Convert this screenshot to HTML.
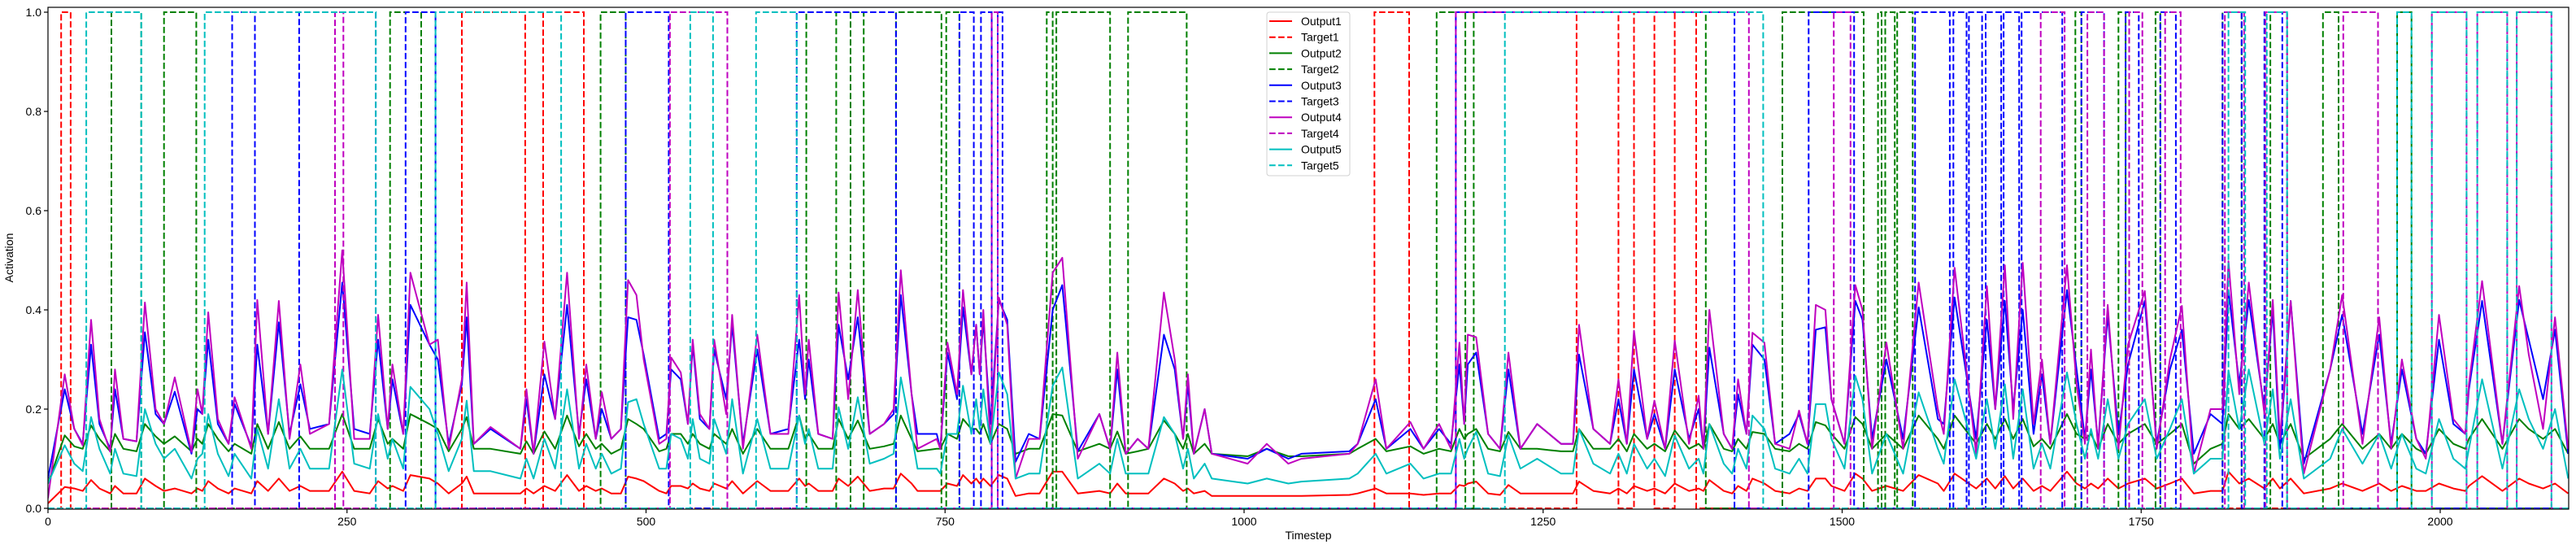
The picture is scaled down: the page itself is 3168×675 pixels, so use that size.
<!DOCTYPE html>
<html><head><meta charset="utf-8"><style>
html,body{margin:0;padding:0;background:#fff;}
svg{display:block;font-family:"Liberation Sans","DejaVu Sans",sans-serif;}
</style></head><body>
<svg id="chart" width="3168" height="675" viewBox="0 0 3168 675" xmlns="http://www.w3.org/2000/svg">
<rect x="0" y="0" width="3168" height="675" fill="#fff"/>
<g id="plot"></g>
<g id="axes"></g>
<text x="16" y="317" font-size="14" text-anchor="middle" transform="rotate(-90 16 317)">Activation</text>
<text x="1609" y="663" font-size="14" text-anchor="middle">Timestep</text>
<g id="legend"></g>
</svg>
<script>
const steps=[0,14,22,29,36,43,52,56,63,74,81,90,97,106,120,125,129,134,142,151,156,170,175,184,193,202,211,219,235,246,256,269,276,284,288,297,303,319,326,335,346,350,356,370,395,400,406,415,424,434,444,450,458,463,471,479,485,492,498,511,517,521,529,535,539,545,553,557,567,572,581,593,604,619,628,633,636,644,656,661,669,677,687,699,707,713,722,727,743,746,752,760,765,772,776,779,782,788,795,802,809,820,829,840,848,861,879,888,894,901,911,920,933,942,949,953,958,967,973,1003,1019,1037,1048,1088,1095,1110,1119,1139,1150,1163,1173,1180,1184,1187,1194,1204,1214,1221,1231,1245,1265,1275,1280,1292,1306,1313,1320,1326,1337,1343,1352,1360,1372,1380,1384,1389,1401,1408,1413,1420,1425,1435,1444,1456,1464,1471,1478,1486,1491,1502,1511,1517,1525,1537,1551,1564,1580,1585,1594,1612,1621,1628,1636,1643,1651,1660,1667,1674,1688,1696,1703,1708,1714,1722,1731,1739,1753,1763,1774,1784,1794,1808,1818,1823,1832,1840,1853,1860,1866,1875,1886,1908,1918,1935,1949,1959,1968,1980,1988,1999,2011,2021,2024,2035,2052,2066,2074,2086,2096,2107];
const output1=[.01,.043,.04,.035,.057,.04,.03,.045,.03,.03,.06,.045,.035,.04,.03,.04,.035,.055,.04,.03,.04,.03,.055,.035,.06,.035,.045,.035,.035,.074,.035,.03,.055,.04,.045,.035,.067,.06,.05,.03,.05,.064,.03,.03,.03,.04,.03,.045,.035,.067,.035,.045,.035,.04,.03,.03,.064,.06,.055,.035,.03,.045,.045,.04,.05,.04,.035,.05,.04,.055,.03,.055,.035,.035,.06,.045,.05,.035,.035,.06,.045,.064,.035,.04,.04,.07,.05,.035,.035,.035,.05,.045,.067,.05,.06,.05,.06,.045,.067,.06,.025,.03,.03,.074,.074,.03,.035,.03,.05,.03,.03,.03,.06,.05,.035,.04,.03,.035,.025,.025,.025,.025,.025,.027,.03,.04,.03,.03,.027,.03,.03,.047,.045,.05,.054,.03,.027,.047,.03,.03,.03,.03,.054,.035,.03,.04,.03,.045,.035,.04,.03,.05,.035,.04,.035,.057,.035,.03,.045,.035,.06,.05,.035,.03,.04,.035,.06,.06,.045,.035,.07,.06,.035,.045,.035,.067,.05,.035,.07,.04,.06,.04,.065,.04,.06,.035,.045,.035,.074,.05,.04,.05,.04,.06,.04,.05,.06,.04,.05,.06,.03,.035,.035,.074,.05,.06,.04,.06,.04,.06,.03,.04,.05,.035,.05,.035,.045,.035,.035,.05,.04,.035,.045,.065,.035,.06,.05,.04,.05,.03];
const output2=[.05,.147,.125,.12,.167,.14,.115,.15,.12,.115,.17,.145,.13,.145,.115,.14,.13,.17,.14,.115,.13,.11,.17,.12,.174,.12,.145,.12,.12,.19,.12,.12,.18,.13,.14,.12,.19,.17,.16,.115,.16,.184,.12,.12,.11,.135,.11,.155,.12,.187,.125,.15,.12,.13,.11,.12,.18,.17,.16,.115,.12,.15,.15,.13,.15,.13,.12,.15,.13,.16,.11,.16,.12,.12,.187,.14,.15,.12,.12,.18,.14,.177,.12,.125,.13,.187,.14,.115,.12,.12,.15,.14,.18,.16,.16,.15,.17,.13,.17,.16,.11,.12,.12,.19,.187,.115,.13,.12,.155,.11,.115,.12,.177,.15,.12,.15,.11,.13,.11,.105,.12,.105,.105,.11,.12,.14,.115,.125,.11,.12,.115,.16,.14,.15,.16,.12,.115,.154,.12,.12,.115,.115,.16,.12,.12,.14,.115,.15,.12,.13,.115,.157,.12,.13,.12,.17,.12,.115,.14,.12,.154,.15,.12,.115,.13,.12,.174,.167,.15,.12,.184,.17,.12,.15,.12,.187,.14,.12,.187,.13,.17,.14,.18,.14,.18,.125,.14,.12,.19,.15,.14,.15,.12,.17,.13,.15,.17,.13,.15,.17,.09,.12,.13,.19,.16,.18,.14,.17,.13,.17,.1,.14,.17,.12,.15,.12,.15,.12,.11,.16,.13,.12,.14,.18,.12,.18,.16,.14,.16,.11];
const output3=[.06,.24,.16,.13,.33,.17,.12,.24,.14,.135,.355,.19,.17,.235,.11,.2,.19,.34,.17,.13,.21,.125,.33,.15,.375,.15,.25,.16,.17,.455,.16,.15,.34,.16,.26,.15,.41,.33,.3,.13,.25,.385,.13,.16,.12,.22,.11,.27,.18,.41,.15,.26,.14,.2,.14,.16,.385,.38,.31,.14,.15,.28,.26,.17,.33,.18,.16,.32,.22,.37,.13,.32,.15,.16,.34,.22,.3,.15,.14,.37,.26,.385,.15,.17,.19,.43,.23,.15,.15,.12,.314,.22,.405,.27,.37,.27,.38,.17,.42,.38,.094,.15,.14,.4,.45,.115,.19,.12,.28,.11,.14,.12,.35,.28,.14,.25,.11,.2,.11,.1,.12,.1,.11,.115,.13,.22,.12,.16,.12,.16,.13,.29,.17,.29,.314,.15,.12,.28,.12,.17,.13,.13,.31,.16,.13,.22,.13,.28,.14,.19,.12,.28,.14,.2,.12,.324,.15,.12,.23,.15,.33,.3,.13,.15,.19,.13,.36,.365,.22,.13,.418,.38,.14,.3,.14,.405,.18,.17,.425,.14,.38,.2,.418,.2,.4,.15,.27,.13,.44,.28,.14,.28,.13,.39,.15,.29,.418,.13,.28,.36,.11,.19,.17,.44,.25,.42,.2,.4,.12,.418,.09,.28,.39,.15,.35,.13,.28,.14,.11,.34,.17,.15,.24,.418,.13,.42,.34,.22,.36,.11];
const output4=[.02,.27,.16,.127,.38,.18,.114,.28,.14,.135,.415,.2,.17,.264,.114,.24,.19,.395,.18,.13,.224,.12,.42,.15,.418,.14,.29,.15,.17,.52,.14,.14,.39,.16,.29,.15,.475,.33,.34,.12,.26,.455,.13,.164,.12,.24,.11,.336,.18,.475,.14,.29,.14,.234,.14,.16,.46,.43,.3,.13,.14,.304,.274,.17,.34,.19,.16,.34,.19,.39,.12,.35,.15,.15,.43,.23,.34,.15,.14,.435,.22,.44,.15,.17,.2,.48,.23,.12,.14,.12,.334,.23,.44,.27,.37,.27,.4,.13,.425,.37,.06,.14,.14,.475,.505,.1,.19,.12,.314,.11,.14,.12,.435,.3,.14,.27,.11,.2,.11,.09,.13,.09,.1,.11,.13,.26,.12,.174,.12,.17,.12,.334,.17,.35,.345,.15,.12,.314,.12,.17,.13,.13,.37,.16,.13,.26,.13,.358,.14,.217,.12,.338,.13,.227,.12,.4,.15,.12,.26,.15,.354,.334,.13,.12,.197,.13,.41,.4,.22,.13,.45,.4,.12,.334,.12,.455,.2,.15,.485,.11,.448,.2,.49,.18,.495,.17,.3,.13,.49,.25,.13,.32,.12,.41,.12,.33,.438,.12,.3,.408,.07,.2,.2,.498,.23,.455,.19,.42,.14,.418,.07,.28,.43,.13,.385,.12,.3,.14,.1,.39,.18,.15,.25,.458,.13,.448,.31,.16,.385,.12];
const output5=[.05,.127,.09,.075,.184,.12,.07,.12,.07,.065,.2,.13,.1,.12,.06,.1,.11,.19,.11,.065,.11,.06,.16,.08,.22,.08,.12,.08,.08,.28,.09,.08,.19,.1,.14,.08,.245,.2,.15,.075,.14,.217,.075,.075,.06,.1,.06,.14,.08,.24,.08,.13,.08,.11,.07,.08,.214,.22,.17,.08,.08,.15,.14,.1,.18,.1,.09,.18,.11,.22,.07,.18,.08,.08,.187,.13,.16,.08,.08,.204,.12,.224,.09,.1,.11,.264,.15,.08,.08,.07,.15,.15,.247,.15,.22,.16,.24,.13,.274,.23,.06,.07,.07,.247,.284,.06,.09,.07,.14,.07,.07,.07,.184,.15,.08,.12,.06,.09,.06,.05,.06,.05,.054,.06,.07,.11,.07,.09,.06,.07,.07,.14,.1,.12,.154,.07,.065,.147,.08,.1,.07,.07,.16,.09,.07,.11,.07,.13,.08,.1,.065,.147,.08,.1,.07,.17,.09,.07,.12,.08,.187,.16,.08,.07,.1,.07,.21,.21,.14,.08,.267,.22,.07,.15,.07,.234,.12,.09,.26,.1,.22,.12,.25,.1,.24,.08,.13,.08,.274,.17,.1,.16,.1,.22,.1,.17,.22,.1,.16,.22,.07,.1,.1,.278,.16,.28,.13,.24,.1,.22,.06,.1,.16,.09,.15,.08,.15,.08,.07,.18,.1,.08,.12,.26,.08,.24,.18,.12,.2,.06];
const target1=[[11,19],[346,399],[414,448],[1109,1138],[1278,1313],[1326,1343],[1360,1378]];
const target2=[[53,78],[97,124],[286,312],[462,483],[634,659],[671,682],[709,747],[751,762],[835,840],[843,888],[903,952],[1161,1185],[1192,1386],[1450,1518],[1530,1533],[1536,1544],[1546,1559],[1695,1700],[1731,1737],[1762,1766],[1818,1834],[1858,1872],[1902,1915],[1964,1976]];
const target3=[[154,173],[210,274],[299,324],[483,519],[626,709],[762,774],[780,789],[794,798],[1177,1410],[1472,1510],[1561,1590],[1593,1604],[1606,1617],[1620,1633],[1635,1648],[1650,1684],[1700,1719],[1737,1748],[1766,1779],[1818,1834],[1853,1868]];
const target4=[[240,247],[520,568],[789,794],[1177,1422],[1493,1507],[1666,1686],[1705,1719],[1740,1751],[1770,1783],[1820,1836],[1854,1872],[1919,1948],[1993,2022],[2031,2056],[2064,2093]];
const target5=[[32,78],[131,274],[324,429],[537,556],[592,626],[1218,1434],[1823,1837],[1855,1872],[1964,1976],[1993,2022],[2031,2056],[2064,2093]];
const xTicks=[0,250,500,750,1000,1250,1500,1750,2000];
const yTicks=[0.0,0.2,0.4,0.6,0.8,1.0];
const seriesNames=["Output1","Target1","Output2","Target2","Output3","Target3","Output4","Target4","Output5","Target5"];

const NS="http://www.w3.org/2000/svg";
const X0=59,XR=3159,YT=9,YB=626,XMAX=2107;
function xs(t){return X0+t*1.471;}
function ys(v){return 625-v*610;}
const colors=["#ff0000","#ff0000","#008000","#008000","#0000ff","#0000ff","#bf00bf","#bf00bf","#00bfbf","#00bfbf"];
const plot=document.getElementById('plot');
const clip=document.createElementNS(NS,'clipPath');clip.setAttribute('id','cp');
const cr=document.createElementNS(NS,'rect');cr.setAttribute('x',X0);cr.setAttribute('y',YT);cr.setAttribute('width',XR-X0);cr.setAttribute('height',YB-YT);
clip.appendChild(cr);document.getElementById('chart').appendChild(clip);
plot.setAttribute('clip-path','url(#cp)');
function outPath(arr){let n=Math.min(steps.length,arr.length);let d='';for(let i=0;i<n;i++){d+=(i?'L':'M')+xs(steps[i]).toFixed(1)+' '+ys(arr[i]).toFixed(1);}return d;}
function tgtPath(iv){let d='M'+xs(0)+' '+ys(0);for(const [a,b] of iv){d+='L'+xs(a).toFixed(1)+' '+ys(0)+'L'+xs(a).toFixed(1)+' '+ys(1)+'L'+xs(b).toFixed(1)+' '+ys(1)+'L'+xs(b).toFixed(1)+' '+ys(0);}d+='L'+xs(XMAX)+' '+ys(0);return d;}
const outs=[output1,output2,output3,output4,output5];
const tgts=[target1,target2,target3,target4,target5];
for(let k=0;k<5;k++){
  const o=document.createElementNS(NS,'path');
  o.setAttribute('d',outPath(outs[k]));o.setAttribute('fill','none');o.setAttribute('stroke',colors[2*k]);o.setAttribute('stroke-width','2');o.setAttribute('stroke-linejoin','round');
  
  
  plot.appendChild(o);
  const t=document.createElementNS(NS,'path');
  t.setAttribute('d',tgtPath(tgts[k]));t.setAttribute('fill','none');t.setAttribute('stroke',colors[2*k+1]);t.setAttribute('stroke-width','2');t.setAttribute('stroke-dasharray','7.7 3.3');
  
  
  plot.appendChild(t);
}
const axes=document.getElementById('axes');
const frame=document.createElementNS(NS,'rect');
frame.setAttribute('x',X0);frame.setAttribute('y',YT);frame.setAttribute('width',XR-X0);frame.setAttribute('height',YB-YT);frame.setAttribute('fill','none');frame.setAttribute('stroke','#000');frame.setAttribute('stroke-width','1.2');


axes.appendChild(frame);
for(const t of xTicks){
  const l=document.createElementNS(NS,'line');l.setAttribute('x1',xs(t));l.setAttribute('x2',xs(t));l.setAttribute('y1',YB);l.setAttribute('y2',YB+5);l.setAttribute('stroke','#000');l.setAttribute('stroke-width','1.2');
  
  
  axes.appendChild(l);
  const tx=document.createElementNS(NS,'text');tx.setAttribute('x',xs(t));tx.setAttribute('y',646);tx.setAttribute('font-size','14');tx.setAttribute('text-anchor','middle');tx.textContent=t;
  
  
  axes.appendChild(tx);
}
for(const v of yTicks){
  const l=document.createElementNS(NS,'line');l.setAttribute('x1',X0-5);l.setAttribute('x2',X0);l.setAttribute('y1',ys(v));l.setAttribute('y2',ys(v));l.setAttribute('stroke','#000');l.setAttribute('stroke-width','1.2');
  
  
  axes.appendChild(l);
  const tx=document.createElementNS(NS,'text');tx.setAttribute('x',X0-8);tx.setAttribute('y',ys(v)+5);tx.setAttribute('font-size','14');tx.setAttribute('text-anchor','end');tx.textContent=v.toFixed(1);
  
  
  axes.appendChild(tx);
}
const lg=document.getElementById('legend');
const box=document.createElementNS(NS,'rect');
box.setAttribute('x',1558);box.setAttribute('y',15);box.setAttribute('width',102);box.setAttribute('height',201);box.setAttribute('rx',3);box.setAttribute('fill','#fff');box.setAttribute('fill-opacity','0.8');box.setAttribute('stroke','#d0d0d0');


lg.appendChild(box);
for(let i=0;i<seriesNames.length;i++){
  const y=26+i*19.7;
  const l=document.createElementNS(NS,'line');l.setAttribute('x1',1561);l.setAttribute('x2',1589);l.setAttribute('y1',y);l.setAttribute('y2',y);l.setAttribute('stroke',colors[i]);l.setAttribute('stroke-width','2');
  if(i%2===1)l.setAttribute('stroke-dasharray','7.7 3.3');
  
  
  lg.appendChild(l);
  const tx=document.createElementNS(NS,'text');tx.setAttribute('x',1600);tx.setAttribute('y',y+5);tx.setAttribute('font-size','14');tx.textContent=seriesNames[i];
  
  
  lg.appendChild(tx);
}
</script>
</body></html>
